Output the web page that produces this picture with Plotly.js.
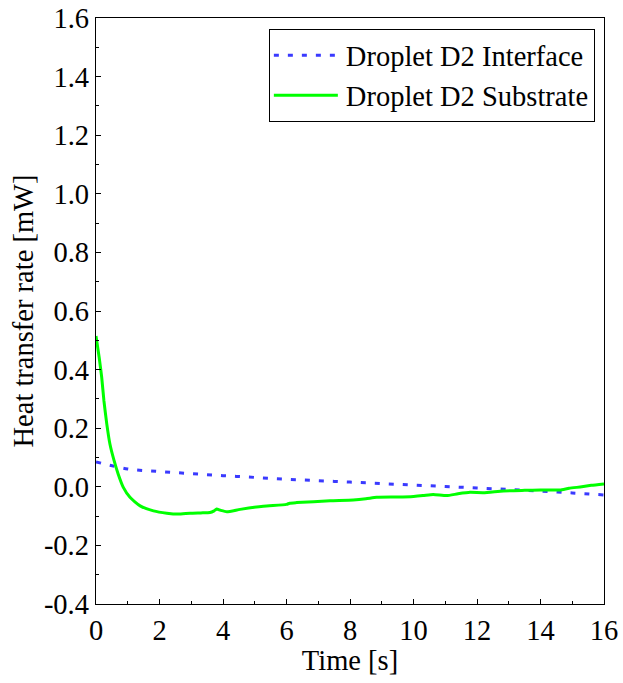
<!DOCTYPE html>
<html>
<head>
<meta charset="utf-8">
<script src="https://cdn.plot.ly/plotly-3.0.1.min.js"></script>
<style>
html,body{margin:0;padding:0;background:#fff;overflow:hidden;}
#chart{width:623px;height:683px;}
</style>
</head>
<body>
<div id="chart"></div>
<script>
const interfaceTime = [0, 1, 2, 3, 4, 5, 6, 7, 8, 9, 10, 11, 12, 13, 14, 15, 16];
const interfaceRate = [0.085, 0.061, 0.052, 0.045, 0.038, 0.032, 0.026, 0.021, 0.016, 0.011, 0.006, 0.001, -0.004, -0.009, -0.015, -0.021, -0.028];

const substrateTime = [0, 0.10, 0.18, 0.25, 0.34, 0.44, 0.57, 0.70, 0.86, 1.07, 1.39, 1.81, 2.23, 2.59, 2.96, 3.3, 3.59, 3.72, 3.80, 3.92, 4.12, 4.54, 5.27, 6.0, 6.1, 6.32, 7.37, 8.10, 8.5, 8.84, 9.5, 10.0, 10.3, 10.62, 11.04, 11.4, 11.78, 12.2, 12.83, 13.5, 14.0, 14.61, 14.9, 15.3, 15.6, 16.0];
const substrateRate = [0.515, 0.441, 0.373, 0.293, 0.214, 0.145, 0.089, 0.043, -0.002, -0.036, -0.065, -0.082, -0.090, -0.093, -0.090, -0.089, -0.088, -0.082, -0.076, -0.080, -0.085, -0.077, -0.066, -0.060, -0.056, -0.054, -0.048, -0.045, -0.041, -0.036, -0.035, -0.033, -0.030, -0.026, -0.030, -0.024, -0.019, -0.020, -0.014, -0.012, -0.011, -0.011, -0.005, 0.000, 0.005, 0.010];

const seriesNames = ["Droplet D2 Interface", "Droplet D2 Substrate"];
const xTickVals = [0, 2, 4, 6, 8, 10, 12, 14, 16];
const yTickVals = [-0.4, -0.2, 0.0, 0.2, 0.4, 0.6, 0.8, 1.0, 1.2, 1.4, 1.6];
const yTickText = ["-0.4", "-0.2", "0.0", "0.2", "0.4", "0.6", "0.8", "1.0", "1.2", "1.4", "1.6"];

const fontFam = "Liberation Serif";
const fs = 28.5;

const traces = [
  {x: interfaceTime, y: interfaceRate, name: seriesNames[0], type: "scatter", mode: "lines",
   line: {color: "#3a3aff", width: 3, dash: "5px,9px", shape: "spline"}},
  {x: substrateTime, y: substrateRate, name: seriesNames[1], type: "scatter", mode: "lines",
   line: {color: "#00ff00", width: 3, shape: "spline", smoothing: 0.5}}
];

const layout = {
  width: 623, height: 683,
  paper_bgcolor: "#fff", plot_bgcolor: "#fff",
  margin: {l: 96, r: 19, t: 18, b: 79},
  font: {family: fontFam, size: fs, color: "#000"},
  showlegend: true,
  legend: {x: 0.982, xanchor: "right", y: 0.981, yanchor: "top",
           bordercolor: "#000", borderwidth: 1, bgcolor: "#fff",
           font: {family: fontFam, size: fs, color: "#000"},
           tracegroupgap: 0, itemwidth: 66},
  xaxis: {range: [0, 16], tickvals: xTickVals, ticks: "inside", ticklen: 5, tickcolor: "#000",
          showline: true, linecolor: "#000", linewidth: 1.3, mirror: true, showgrid: false, zeroline: false,
          minor: {dtick: 1, ticks: "inside", ticklen: 3, tickcolor: "#000", showgrid: false},
          tickfont: {family: fontFam, size: fs},
          title: {text: "Time [s]", font: {family: fontFam, size: fs}, standoff: 2}},
  yaxis: {range: [-0.4, 1.6], tickvals: yTickVals, ticktext: yTickText, ticks: "inside", ticklen: 5, tickcolor: "#000",
          showline: true, linecolor: "#000", linewidth: 1.3, mirror: true, showgrid: false, zeroline: false,
          minor: {dtick: 0.1, ticks: "inside", ticklen: 3, tickcolor: "#000", showgrid: false},
          tickfont: {family: fontFam, size: fs},
          title: {text: "Heat transfer rate [mW]", font: {family: fontFam, size: fs}, standoff: 2}}
};

Plotly.newPlot("chart", traces, layout, {displayModeBar: false, staticPlot: true}).then(function (gd) {
  gd.querySelectorAll(".legend .legendlines path").forEach(function (p) {
    p.setAttribute("d", "M4,0h64");
  });
});
</script>
</body>
</html>
